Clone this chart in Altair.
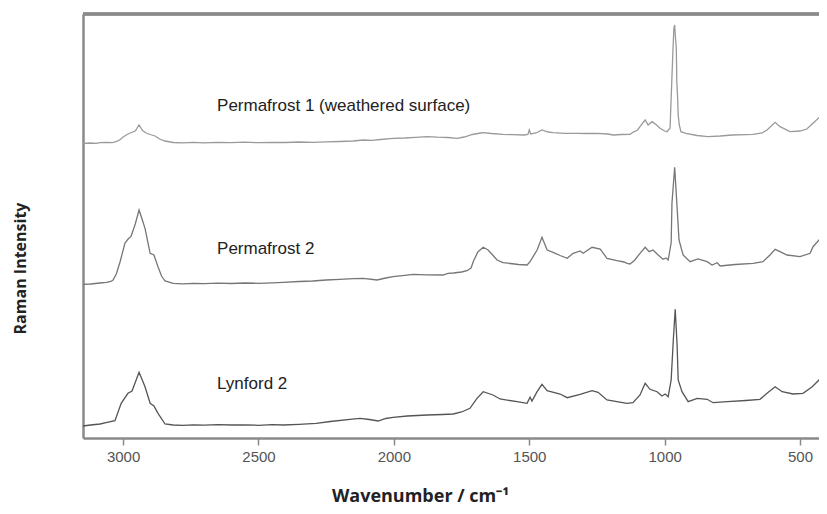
import altair as alt
import pandas as pd

# ---- data (wavenumber in cm-1, intensity in arbitrary units, spectra offset) ----
p1_wn = [3148, 3120, 3100, 3085, 3060, 3040, 3026, 3010, 3000, 2985, 2974, 2955, 2941, 2928, 2915, 2900,
         2882, 2865, 2845, 2815, 2780, 2740, 2700, 2650, 2600, 2550, 2500, 2450, 2400, 2350, 2300, 2250,
         2200, 2150, 2113, 2080, 2050, 2003, 1960, 1920, 1877, 1840, 1800, 1766, 1740, 1710, 1680, 1670,
         1640, 1597, 1560, 1520, 1505, 1500, 1495, 1475, 1453, 1430, 1412, 1370, 1323, 1290, 1250, 1210,
         1190, 1160, 1128, 1117, 1100, 1091, 1072, 1061, 1046, 1030, 1017, 1000, 991, 980, 976, 970,
         966, 963, 960, 957, 955, 952, 950, 946, 940, 922, 880, 840, 795, 750, 700, 673, 640, 622,
         592, 574, 537, 500, 475, 452, 430, 415, 400]
p1_int = [294.7, 295.0, 294.6, 295.4, 295.7, 295.4, 296.3, 298.5, 301.0, 303.5, 305.0, 307.0, 313.0, 307.5, 305.0, 303.5,
          302.0, 299.0, 297.0, 295.5, 295.2, 295.7, 295.2, 295.6, 295.4, 295.8, 295.3, 295.7, 295.5, 296.0, 295.6, 296.2,
          296.5, 297.0, 298.0, 297.7, 298.5, 299.7, 300.0, 300.7, 301.3, 300.8, 300.5, 299.7, 301.0, 303.5, 305.0, 305.3,
          304.5, 303.7, 303.3, 303.0, 303.5, 308.0, 304.0, 305.0, 308.0, 306.0, 305.3, 304.7, 304.7, 304.5, 304.7, 304.0,
          303.0, 303.5, 303.7, 305.7, 308.0, 311.3, 318.0, 313.0, 316.3, 313.0, 309.7, 307.0, 306.3, 310.0, 339.7, 383.0,
          409.7, 413.0, 400.0, 389.7, 356.3, 339.7, 323.0, 313.0, 306.3, 304.7, 302.5, 301.3, 302.0, 303.0, 303.4, 303.7, 305.0, 308.0,
          315.7, 311.3, 306.3, 307.0, 309.0, 314.7, 320.3, 311.3, 308.0]

p2_wn = [3148, 3120, 3085, 3062, 3045, 3037, 3025, 3011, 2993, 2980, 2971, 2955, 2941, 2930, 2919, 2900,
         2886, 2871, 2858, 2845, 2815, 2780, 2740, 2700, 2650, 2600, 2550, 2500, 2450, 2409, 2350, 2300,
         2250, 2200, 2150, 2113, 2062, 2030, 2003, 1960, 1929, 1880, 1818, 1800, 1780, 1750, 1730, 1715,
         1707, 1690, 1670, 1652, 1635, 1619, 1597, 1570, 1540, 1508, 1497, 1471, 1453, 1434, 1412, 1386,
         1360, 1338, 1312, 1301, 1268, 1238, 1213, 1176, 1150, 1139, 1128, 1110, 1091, 1072, 1057, 1043,
         1024, 1006, 995, 987, 976, 973, 963, 955, 947, 932, 906, 877, 843, 825, 806, 795, 740,
         673, 637, 611, 592, 574, 548, 500, 463, 452, 430, 415, 400]
p2_int = [153.7, 154.0, 155.0, 155.7, 156.5, 158.0, 164.0, 176.3, 195.0, 199.5, 201.3, 214.0, 228.0, 219.0, 209.7, 184.7,
          183.0, 171.3, 162.0, 157.0, 154.7, 154.2, 154.7, 154.4, 154.8, 154.5, 155.0, 154.7, 155.2, 155.7, 156.5, 157.0,
          158.0, 158.7, 159.3, 159.7, 158.0, 160.0, 161.3, 162.7, 163.7, 163.2, 163.0, 164.7, 165.0, 166.0, 167.3, 170.0,
          176.3, 186.0, 190.7, 188.0, 183.0, 178.0, 175.3, 174.5, 173.5, 173.0, 176.3, 188.0, 200.7, 188.0, 185.7, 182.5,
          179.7, 184.7, 187.0, 184.7, 190.7, 189.0, 179.7, 177.3, 176.0, 174.7, 174.0, 178.0, 184.7, 190.7, 186.3, 188.0,
          183.0, 178.7, 180.0, 178.0, 195.0, 234.7, 270.7, 234.7, 198.0, 183.0, 176.3, 179.0, 176.3, 173.0, 175.3, 172.0, 173.5,
          174.7, 176.3, 183.0, 188.7, 186.3, 183.0, 181.3, 184.7, 191.3, 198.0, 192.0, 188.0]

l2_wn = [3148, 3120, 3085, 3063, 3030, 3007, 2982, 2967, 2941, 2919, 2900, 2886, 2871, 2845, 2815, 2780,
         2740, 2700, 2650, 2600, 2550, 2500, 2450, 2409, 2350, 2287, 2235, 2162, 2125, 2090, 2058, 2030,
         2003, 1950, 1877, 1820, 1781, 1750, 1719, 1693, 1670, 1634, 1608, 1545, 1508, 1497, 1490, 1471,
         1453, 1434, 1386, 1360, 1312, 1268, 1246, 1213, 1139, 1117, 1091, 1072, 1054, 1028, 1010, 998,
         987, 976, 968, 961, 954, 950, 936, 913, 880, 843, 821, 769, 700, 648, 622, 592, 566, 526,
         489, 455, 430, 415, 400]
l2_int = [12.0, 13.0, 14.0, 15.3, 17.3, 34.7, 44.7, 47.0, 65.7, 51.3, 34.7, 32.0, 24.7, 14.0, 13.0, 12.7,
          13.2, 12.8, 13.3, 13.0, 13.2, 12.7, 13.3, 13.0, 13.7, 14.7, 16.5, 18.7, 19.7, 18.5, 17.0, 19.5,
          20.7, 22.0, 23.0, 23.5, 24.0, 26.0, 29.7, 39.7, 46.3, 43.0, 39.0, 36.3, 34.7, 40.7, 37.0, 46.3,
          53.7, 47.3, 44.0, 40.3, 43.7, 47.3, 45.7, 38.0, 34.7, 35.3, 43.0, 54.7, 48.7, 46.3, 42.0, 44.0,
          41.3, 58.0, 98.0, 128.7, 93.0, 58.0, 46.3, 36.3, 39.7, 38.7, 35.3, 36.3, 37.5, 38.7, 44.7, 51.3, 46.3, 44.0,
          44.7, 51.3, 58.0, 50.7, 47.3]

series_names = ["Permafrost 1", "Permafrost 2", "Lynford 2"]
series_colors = ["#9a9a9a", "#767676", "#555555"]

label_texts = ["Permafrost 1 (weathered surface)", "Permafrost 2", "Lynford 2"]
label_wn = [2653, 2653, 2653]
label_int = [327, 184, 49]

x_ticks = [3000, 2500, 2000, 1500, 1000, 500]

rows = []
for name, wn, it in zip(series_names, [p1_wn, p2_wn, l2_wn], [p1_int, p2_int, l2_int]):
    for a, b in zip(wn, it):
        rows.append({"wn": a, "intensity": b, "series": name})
df = pd.DataFrame(rows)
labels = pd.DataFrame({"wn": label_wn, "intensity": label_int, "text": label_texts})

frame_color = "#8a8a8a"

x_enc = alt.X("wn:Q",
              scale=alt.Scale(domain=[430, 3148], reverse=True, nice=False, zero=False),
              axis=alt.Axis(values=x_ticks, format="d", grid=False, title="Wavenumber / cm⁻¹",
                            domainColor=frame_color, domainWidth=2.5,
                            tickColor=frame_color, tickWidth=1.5, tickSize=7,
                            labelFont="Liberation Sans", labelFontSize=15, labelColor="#555555",
                            labelPadding=4,
                            titleFont="Open Sans", titleFontSize=18, titleFontWeight="bold",
                            titleColor="#222222", titleX=337, titleY=63,
                            titleAlign="center", titleBaseline="alphabetic"))
y_enc = alt.Y("intensity:Q",
              scale=alt.Scale(domain=[0, 424], nice=False, zero=False),
              axis=alt.Axis(labels=False, ticks=False, grid=False, title="Raman Intensity",
                            domainColor=frame_color, domainWidth=2.5,
                            titleFont="Open Sans", titleFontSize=16, titleFontWeight="bold",
                            titleColor="#222222", titleX=-63, titleY=254, titleAngle=270,
                            titleAlign="center", titleBaseline="middle"))

lines = alt.Chart(df).mark_line(strokeWidth=1.3, clip=True).encode(
    x=x_enc,
    y=y_enc,
    color=alt.Color("series:N", scale=alt.Scale(domain=series_names, range=series_colors), legend=None),
    detail="series:N",
)

text = alt.Chart(labels).mark_text(align="left", baseline="alphabetic", font="Liberation Sans",
                                   fontSize=17, color="#222222").encode(
    x=alt.X("wn:Q"), y=alt.Y("intensity:Q"), text="text:N")

top_rule = alt.Chart(labels).mark_rule(color=frame_color, strokeWidth=3).encode(
    y=alt.datum(424))

chart = alt.layer(lines, text, top_rule).properties(
    width=736, height=424,
    autosize=alt.AutoSizeParams(type="none"),
    padding={"left": 75, "top": 6, "right": 0, "bottom": 68},
).configure_view(stroke=None).configure(background="white")

chart.save("out.html", embed_options={"renderer": "svg", "actions": False})
